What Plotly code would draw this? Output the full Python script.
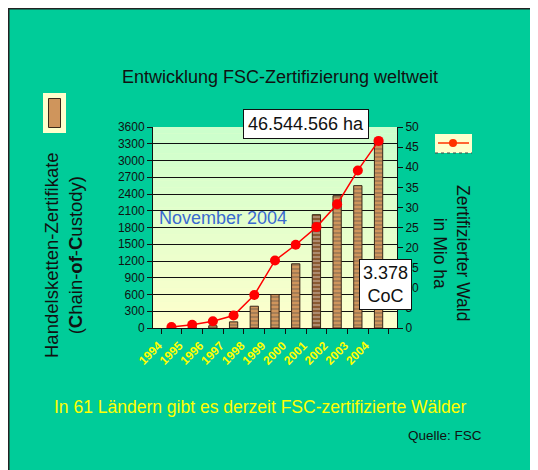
import plotly.graph_objects as go

years = ["1994", "1995", "1996", "1997", "1998", "1999", "2000", "2001", "2002", "2003", "2004"]
coc_certificates = [5, 10, 40, 110, 390, 600, 1150, 2030, 2370, 2550, 3378]
forest_mio_ha = [0.25, 0.8, 1.7, 3.1, 8.2, 16.8, 20.7, 25.1, 30.8, 39.2, 46.544566]
left_ticks = list(range(0, 3601, 300))
right_ticks = list(range(0, 51, 5))

OFF = 8  # page offset of the figure (body margin)
W, H = 538 - OFF, 470 - OFF
# plot area in page pixels
L, R, T, B = 153, 397, 127, 328


def px(x):
    return (x - L) / (R - L)


def py(y):
    return (B - y) / (B - T)


TEAL = "#00cc99"
FONT = "Liberation Sans, Arial, sans-serif"

bar_colors = ["#cf955c"] * len(years)
bar_colors[7] = "#8a5a32"

fig = go.Figure()
fig.add_trace(go.Bar(
    x=years, y=coc_certificates, yaxis="y",
    marker=dict(color=bar_colors, line=dict(color="#3a2818", width=1),
                pattern=dict(shape="-", fgcolor="#a86e3e", size=4, solidity=0.3)),
    showlegend=False, hoverinfo="skip",
))
fig.add_trace(go.Scatter(
    x=years, y=forest_mio_ha, yaxis="y2", mode="lines+markers",
    line=dict(color="#ff0000", width=1.5),
    marker=dict(color="#ff0000", size=10),
    showlegend=False,
))

shapes = []
n = 30
for i in range(n):
    t = i / (n - 1)
    r = int(0xcc + (0xff - 0xcc) * (1 - t))
    shapes.append(dict(type="rect", xref="x domain", yref="y domain",
                       x0=0, x1=1, y0=i / n, y1=(i + 1) / n,
                       fillcolor=f"rgb({r},255,204)", line=dict(width=0), layer="below"))
# frame (left and top)
shapes.append(dict(type="line", xref="paper", yref="paper", x0=px(8.75), x1=px(8.75), y0=py(8), y1=py(470),
                   line=dict(color="#222222", width=1.5)))
shapes.append(dict(type="line", xref="paper", yref="paper", x0=px(8), x1=px(538), y0=py(8.75), y1=py(8.75),
                   line=dict(color="#222222", width=1.5)))
# left legend
shapes.append(dict(type="rect", xref="paper", yref="paper", x0=px(43), x1=px(66), y0=py(93), y1=py(133),
                   fillcolor="#ffffcc", line=dict(width=0)))
shapes.append(dict(type="rect", xref="paper", yref="paper", x0=px(48.5), x1=px(60.5), y0=py(98.5), y1=py(127.5),
                   fillcolor="#cf955c", line=dict(color="#3a2818", width=1)))
# right legend
shapes.append(dict(type="rect", xref="paper", yref="paper", x0=px(435), x1=px(472), y0=py(134), y1=py(153),
                   fillcolor="#ffffcc", line=dict(width=0)))
shapes.append(dict(type="line", xref="paper", yref="paper", x0=px(435), x1=px(472), y0=py(153), y1=py(153),
                   line=dict(color="#444444", width=1, dash="dot")))
shapes.append(dict(type="line", xref="paper", yref="paper", x0=px(438), x1=px(469), y0=py(143), y1=py(143),
                   line=dict(color="#ff3300", width=1.5)))
shapes.append(dict(type="circle", xref="paper", yref="paper", x0=px(449), x1=px(457), y0=py(139), y1=py(147),
                   fillcolor="#ff3300", line=dict(width=0)))


def ann(text, x, y, size, color="#111111", **kw):
    d = dict(text=text, x=px(x), y=py(y), xref="paper", yref="paper", showarrow=False,
             xanchor="center", yanchor="middle", font=dict(family=FONT, size=size, color=color))
    d.update(kw)
    return d


annotations = [
    ann("Entwicklung FSC-Zertifizierung weltweit", 280, 77, 18),
    ann("In 61 Ländern gibt es derzeit FSC-zertifizierte Wälder", 260, 407, 17.5, "#ffff00"),
    ann("Quelle: FSC", 445, 435, 13.5),
    ann("Handelsketten-Zertifikate<br>(<b>C</b>hain-<b>of</b>-<b>C</b>ustody)", 63, 255, 18.5, textangle=-90),
    ann("Zertifizierter Wald<br>in Mio ha", 452, 253, 17.5, textangle=90),
    ann("November 2004", 223, 218, 18, "#3a6ad0"),
    ann("46.544.566 ha", 305.5, 124, 18, bgcolor="white", bordercolor="#111111", borderwidth=1, borderpad=4),
    ann("3.378<br>CoC", 385.5, 284, 18, bgcolor="white", bordercolor="#111111", borderwidth=1, borderpad=3),
]

fig.update_layout(
    width=W, height=H, autosize=False,
    margin=dict(l=L - OFF, r=538 - R, t=T - OFF, b=470 - B, pad=0),
    paper_bgcolor=TEAL, plot_bgcolor="#eeffcc",
    bargap=0.6,
    showlegend=False,
    font=dict(family=FONT, size=12, color="#111111"),
    xaxis=dict(type="category", showline=True, linecolor="#111111", linewidth=1,
               ticks="outside", tickson="boundaries", ticklen=5, tickcolor="#111111",
               tickangle=-45, ticklabelstandoff=5, ticklabelshift=-13,
               tickfont=dict(family=FONT, size=12, color="#ffff00", weight="bold"),
               showgrid=False, zeroline=False, fixedrange=True),
    yaxis=dict(range=[0, 3600], tickvals=left_ticks, showline=True, linecolor="#111111", linewidth=1,
               ticks="outside", ticklen=5, tickcolor="#111111", showgrid=True, gridcolor="#111111",
               gridwidth=1, zeroline=False, tickfont=dict(family=FONT, size=12, color="#111111")),
    yaxis2=dict(range=[0, 50], tickvals=right_ticks, overlaying="y", side="right", showline=True,
                linecolor="#111111", linewidth=1, ticks="outside", ticklen=5, tickcolor="#111111",
                showgrid=False, zeroline=False, tickfont=dict(family=FONT, size=12, color="#111111")),
    shapes=shapes,
    annotations=annotations,
)

fig.write_html("out.html")
